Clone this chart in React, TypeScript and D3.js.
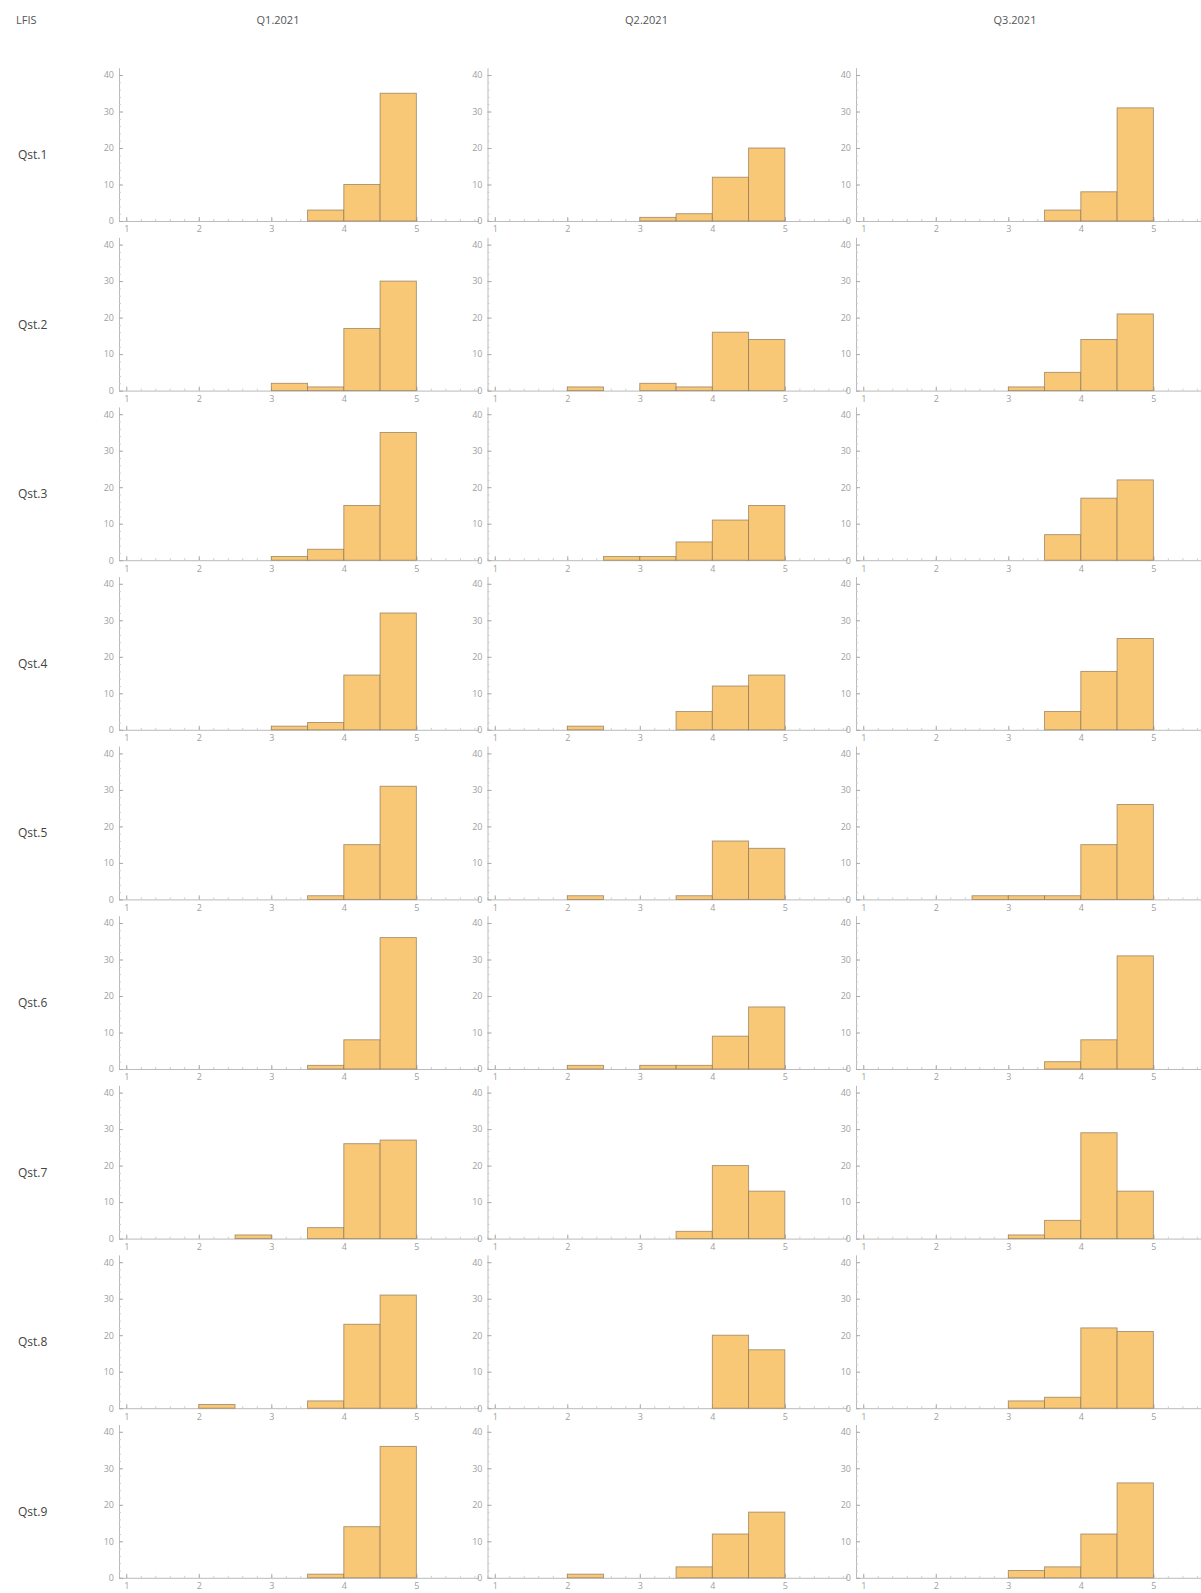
import React, { useEffect, useRef } from 'react';
import * as d3 from 'd3';

// histogram bins of width 0.5 from 1 to 5
const binEdges = [1, 1.5, 2, 2.5, 3, 3.5, 4, 4.5, 5];

const quarters = ['Q1.2021', 'Q2.2021', 'Q3.2021'];
const questions = ['Qst.1', 'Qst.2', 'Qst.3', 'Qst.4', 'Qst.5', 'Qst.6', 'Qst.7', 'Qst.8', 'Qst.9'];

// counts per bin, one row per question
const q1Counts = [
  [0, 0, 0, 0, 0, 3, 10, 35],
  [0, 0, 0, 0, 2, 1, 17, 30],
  [0, 0, 0, 0, 1, 3, 15, 35],
  [0, 0, 0, 0, 1, 2, 15, 32],
  [0, 0, 0, 0, 0, 1, 15, 31],
  [0, 0, 0, 0, 0, 1, 8, 36],
  [0, 0, 0, 1, 0, 3, 26, 27],
  [0, 0, 1, 0, 0, 2, 23, 31],
  [0, 0, 0, 0, 0, 1, 14, 36],
];

const q2Counts = [
  [0, 0, 0, 0, 1, 2, 12, 20],
  [0, 0, 1, 0, 2, 1, 16, 14],
  [0, 0, 0, 1, 1, 5, 11, 15],
  [0, 0, 1, 0, 0, 5, 12, 15],
  [0, 0, 1, 0, 0, 1, 16, 14],
  [0, 0, 1, 0, 1, 1, 9, 17],
  [0, 0, 0, 0, 0, 2, 20, 13],
  [0, 0, 0, 0, 0, 0, 20, 16],
  [0, 0, 1, 0, 0, 3, 12, 18],
];

const q3Counts = [
  [0, 0, 0, 0, 0, 3, 8, 31],
  [0, 0, 0, 0, 1, 5, 14, 21],
  [0, 0, 0, 0, 0, 7, 17, 22],
  [0, 0, 0, 0, 0, 5, 16, 25],
  [0, 0, 0, 1, 1, 1, 15, 26],
  [0, 0, 0, 0, 0, 2, 8, 31],
  [0, 0, 0, 0, 1, 5, 29, 13],
  [0, 0, 0, 0, 2, 3, 22, 21],
  [0, 0, 0, 0, 2, 3, 12, 26],
];

const yTicks = [0, 10, 20, 30, 40];
const xTicks = [1, 2, 3, 4, 5];

const App: React.FC = () => {
  const svgRef = useRef<SVGSVGElement>(null);

  useEffect(() => {
    document.body.style.margin = '0';
    if (!svgRef.current) return;
    const svg = d3.select(svgRef.current);
    svg.selectAll('*').remove();

    const width = 1201;
    const height = 1593;
    const font = '"Open Sans", "DejaVu Sans", sans-serif';

    svg.attr('width', width).attr('height', height).style('font-family', font);

    const colX0 = 119;     // y-axis position of first column
    const colStep = 368.5;
    const rowY0 = 221;     // baseline of first row
    const rowStep = 169.6;
    const panelW = 359;
    const panelH = 153.3;

    const allCounts = [q1Counts, q2Counts, q3Counts];

    // header
    svg.append('text')
      .attr('x', 16).attr('y', 24)
      .attr('font-size', 11).attr('fill', '#555')
      .text('LFIS');

    quarters.forEach((q, c) => {
      svg.append('text')
        .attr('x', colX0 + c * colStep + 159).attr('y', 24)
        .attr('text-anchor', 'middle')
        .attr('font-size', 11).attr('fill', '#555')
        .text(q);
    });

    questions.forEach((label, r) => {
      const base = rowY0 + r * rowStep;
      svg.append('text')
        .attr('x', 18).attr('y', base - 62)
        .attr('font-size', 12).attr('fill', '#444')
        .text(label);

      allCounts.forEach((counts, c) => {
        const left = colX0 + c * colStep;
        const x = d3.scaleLinear().domain([0.9, 5.85]).range([left, left + panelW]);
        const y = d3.scaleLinear().domain([0, 42]).range([base, base - panelH]);

        const g = svg.append('g');

        const bins = counts[r].map((v, i) => ({ x0: binEdges[i], x1: binEdges[i + 1], v }));

        // x axis: minor ticks
        const xMinor = g.append('g')
          .attr('transform', `translate(0,${base})`)
          .call(d3.axisBottom(x).tickValues(d3.range(1, 5.81, 0.2)).tickSize(-2).tickFormat(() => ''));
        xMinor.select('.domain').attr('stroke', '#bbb');
        xMinor.selectAll('.tick line').attr('stroke', '#ccc');

        const xAxis = g.append('g')
          .attr('transform', `translate(0,${base})`)
          .call(d3.axisBottom(x).tickValues(xTicks).tickFormat(d3.format('d')).tickSize(-4).tickPadding(5).tickSizeOuter(0));
        xAxis.select('.domain').remove();
        xAxis.selectAll('.tick line').attr('stroke', '#aaa');
        xAxis.selectAll('text').attr('fill', '#a0a0a0').attr('font-size', 9).attr('font-family', font);

        // bars
        g.selectAll('rect.bar')
          .data(bins.filter(b => b.v > 0))
          .join('rect')
          .attr('class', 'bar')
          .attr('x', d => x(d.x0))
          .attr('width', d => x(d.x1) - x(d.x0))
          .attr('y', d => y(d.v))
          .attr('height', d => y(0) - y(d.v))
          .attr('fill', '#f9c877')
          .attr('stroke', '#8c7656')
          .attr('stroke-opacity', 0.75)
          .attr('stroke-width', 0.9);

        // y axis
        const yMinor = g.append('g')
          .attr('transform', `translate(${left},0)`)
          .call(d3.axisLeft(y).tickValues(d3.range(0, 42, 2)).tickSize(-2).tickFormat(() => '').tickSizeOuter(0));
        yMinor.select('.domain').attr('stroke', '#bbb');
        yMinor.selectAll('.tick line').attr('stroke', '#ccc');

        const yAxis = g.append('g')
          .attr('transform', `translate(${left},0)`)
          .call(d3.axisLeft(y).tickValues(yTicks).tickFormat(d3.format('d')).tickSize(-4).tickPadding(5).tickSizeOuter(0));
        yAxis.select('.domain').remove();
        yAxis.selectAll('.tick line').attr('stroke', '#aaa');
        yAxis.selectAll('text').attr('fill', '#a0a0a0').attr('font-size', 9).attr('font-family', font);
      });
    });
  }, []);

  return <svg ref={svgRef} style={{ display: 'block', background: '#fff' }} />;
};

export default App;
